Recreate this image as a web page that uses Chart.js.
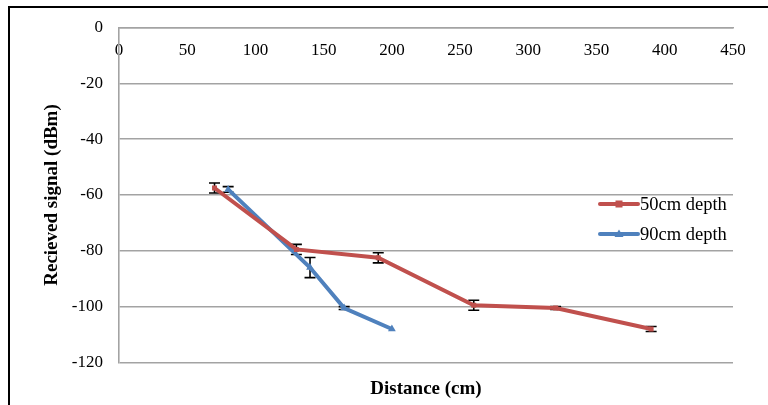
<!DOCTYPE html>
<html>
<head>
<meta charset="utf-8">
<script src="https://cdn.jsdelivr.net/npm/chart.js@4/dist/chart.umd.min.js"></script>
<style>
  html, body { margin: 0; padding: 0; background: #fff; overflow: hidden; }
  #wrap { position: relative; width: 768px; height: 405px; overflow: hidden; }
  #frame { position: absolute; left: 8px; top: 6px; width: 900px; height: 600px;
           border-top: 2px solid #000; border-left: 2px solid #000; }
  canvas { position: absolute; left: 0; top: 0; }
</style>
</head>
<body>
<div id="wrap">
  <div id="frame"></div>
  <canvas id="c" width="768" height="405"></canvas>
</div>
<script>
// Received signal versus distance at two burial depths (mean ± spread)
const xTicks = [0, 50, 100, 150, 200, 250, 300, 350, 400, 450];
const yTicks = [0, -20, -40, -60, -80, -100, -120];

const depth50Distance = [70, 130, 190, 260, 320, 390];
const depth50Signal   = [-57.5, -79.5, -82.5, -99.5, -100.5, -108];
const depth50Error    = [1.8, 1.8, 1.8, 1.8, 0.5, 0.9];

const depth90Distance = [80, 140, 165, 200];
const depth90Signal   = [-58, -86, -100.5, -108];
const depth90Error    = [1, 3.6, 0.5, 0];

const seriesLabels = ['50cm depth', '90cm depth'];
const axisTitles = { x: 'Distance (cm)', y: 'Recieved signal (dBm)' };

const RED = '#C0504D';
const BLUE = '#4F81BD';
const GRID = '#a3a3a3';
const SERIF = "'Liberation Serif', 'Times New Roman', serif";

function points(xs, ys) { return xs.map((x, i) => ({ x: x, y: ys[i] })); }

// Vertical error bars, drawn under the lines
const errorBars = {
  id: 'errorBars',
  beforeDatasetsDraw(chart) {
    const ctx = chart.ctx;
    const yScale = chart.scales.y;
    const area = chart.chartArea;
    ctx.save();
    ctx.beginPath();
    ctx.rect(area.left, area.top, area.right - area.left, area.bottom - area.top);
    ctx.clip();
    ctx.strokeStyle = '#000';
    ctx.lineWidth = 1.6;
    chart.data.datasets.forEach((ds, di) => {
      const meta = chart.getDatasetMeta(di);
      ds.errors.forEach((e, i) => {
        if (!e) return;
        const el = meta.data[i];
        const v = ds.data[i].y;
        const y1 = yScale.getPixelForValue(v + e);
        const y2 = yScale.getPixelForValue(v - e);
        const x = el.x;
        const cap = 5.5;
        ctx.beginPath();
        ctx.moveTo(x, y1); ctx.lineTo(x, y2);
        ctx.moveTo(x - cap, y1); ctx.lineTo(x + cap, y1);
        ctx.moveTo(x - cap, y2); ctx.lineTo(x + cap, y2);
        ctx.stroke();
      });
    });
    ctx.restore();
  }
};

// Legend placed inside the right part of the plot
const sideLegend = {
  id: 'sideLegend',
  afterDraw(chart) {
    const ctx = chart.ctx;
    const x0 = 600, x1 = 638, rows = [204, 234];
    ctx.save();
    chart.data.datasets.forEach((ds, i) => {
      const y = rows[i];
      ctx.strokeStyle = ds.borderColor;
      ctx.lineWidth = 4;
      ctx.lineCap = 'round';
      ctx.beginPath();
      ctx.moveTo(x0, y); ctx.lineTo(x1, y);
      ctx.stroke();
      const mx = (x0 + x1) / 2;
      ctx.fillStyle = ds.borderColor;
      if (ds.pointStyle === 'rect') {
        ctx.fillRect(mx - 3.5, y - 3.5, 7, 7);
      } else {
        ctx.beginPath();
        ctx.moveTo(mx, y - 4.5); ctx.lineTo(mx + 4.5, y + 3); ctx.lineTo(mx - 4.5, y + 3);
        ctx.closePath(); ctx.fill();
      }
      ctx.fillStyle = '#000';
      ctx.font = '18.5px ' + SERIF;
      ctx.textAlign = 'left';
      ctx.textBaseline = 'middle';
      ctx.fillText(ds.label, x1 + 2, y + 1);
    });
    ctx.restore();
  }
};

new Chart(document.getElementById('c'), {
  type: 'line',
  data: {
    datasets: [
      {
        label: seriesLabels[0],
        data: points(depth50Distance, depth50Signal),
        errors: depth50Error,
        borderColor: RED,
        backgroundColor: RED,
        borderWidth: 4,
        pointStyle: 'rect',
        pointRadius: 3.5,
        pointBorderWidth: 0,
        tension: 0
      },
      {
        label: seriesLabels[1],
        data: points(depth90Distance, depth90Signal),
        errors: depth90Error,
        borderColor: BLUE,
        backgroundColor: BLUE,
        borderWidth: 4,
        pointStyle: 'triangle',
        pointRadius: 4.5,
        pointBorderWidth: 0,
        tension: 0
      }
    ]
  },
  options: {
    responsive: false,
    animation: false,
    devicePixelRatio: 1,
    layout: { padding: { left: 0, right: 35, top: 27.5, bottom: 0 } },
    plugins: { legend: { display: false }, tooltip: { enabled: false } },
    scales: {
      x: {
        type: 'linear',
        position: { y: 0 },
        min: 0, max: 450,
        afterBuildTicks(scale) { scale.ticks = xTicks.map(v => ({ value: v })); },
        grid: { display: false, drawTicks: false },
        border: { display: true, color: GRID, width: 1.6 },
        ticks: { color: '#000', padding: 13, maxRotation: 0, font: { family: SERIF, size: 17 } }
      },
      xTitle: {
        type: 'linear',
        position: 'bottom',
        min: 0, max: 450,
        grid: { display: false, drawTicks: false },
        border: { display: false },
        ticks: { display: false },
        title: {
          display: true, text: axisTitles.x, color: '#000',
          font: { family: SERIF, size: 19, weight: 'bold' },
          padding: { top: 0, bottom: 5 }
        },
        afterFit(scale) { scale.height = 42.5; }
      },
      y: {
        type: 'linear',
        position: 'left',
        min: -120, max: 0,
        afterBuildTicks(scale) { scale.ticks = yTicks.map(v => ({ value: v })); },
        grid: { color: GRID, lineWidth: 1.6, drawTicks: false },
        border: { display: true, color: GRID, width: 1.6 },
        ticks: { color: '#000', padding: 16, font: { family: SERIF, size: 17 } },
        title: {
          display: true, text: axisTitles.y, color: '#000',
          font: { family: SERIF, size: 19, weight: 'bold' },
          padding: { top: 41, bottom: 0 }
        },
        afterFit(scale) { scale.width = 119; }
      }
    }
  },
  plugins: [errorBars, sideLegend]
});
</script>
</body>
</html>
